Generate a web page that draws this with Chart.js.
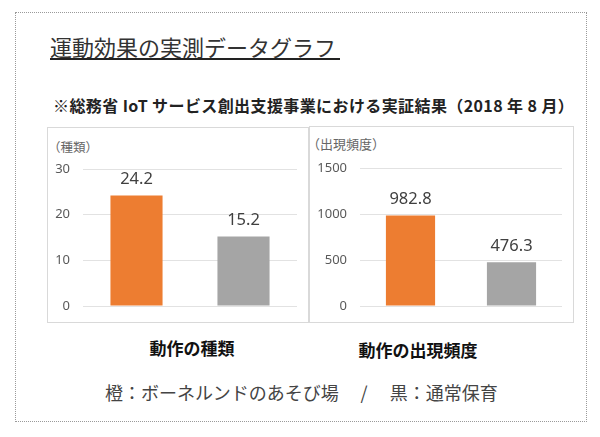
<!DOCTYPE html>
<html lang="ja">
<head>
<meta charset="utf-8">
<script src="https://cdn.jsdelivr.net/npm/chart.js@4.4.1/dist/chart.umd.min.js"></script>
<style>
  html, body { margin: 0; padding: 0; background: #fff; }
  body { width: 600px; height: 437px; position: relative; overflow: hidden; font-family: "Noto Sans CJK JP", sans-serif; }
  .abs { position: absolute; white-space: nowrap; }
  #frame { left: 15px; top: 12px; width: 570px; height: 408px; border: 1px dotted #9a9a9a; }
  #title { left: 50px; top: 34px; font-size: 22px; line-height: 24px; color: #333; }
  #uline { left: 50px; top: 58px; width: 290px; height: 2px; background: #222; }
  #sub { left: 53px; top: 95px; font-size: 16px; line-height: 20px; font-weight: bold; color: #222; letter-spacing: 0.4px; }
  .box { border: 1px solid #d9d9d9; box-sizing: border-box; }
  #boxL { left: 47px; top: 127px; width: 262px; height: 196px; }
  #boxR { left: 309px; top: 126px; width: 265px; height: 197px; }
  .unit { font-size: 12.5px; line-height: 14px; color: #666; }
  #unitL { left: 48px; top: 140px; }
  #unitR { left: 307px; top: 137px; font-size: 13px; }
  .cap { font-size: 17px; line-height: 20px; font-weight: bold; color: #111; transform: translateX(-50%); }
  #capL { left: 192px; top: 338px; }
  #capR { left: 418px; top: 340px; }
  #foot { left: 105px; top: 381px; font-size: 18px; line-height: 22px; color: #444; }
  #foot span.sl { display: inline-block; width: 51px; text-align: center; }
  canvas { position: absolute; }
</style>
</head>
<body>
<div id="frame" class="abs"></div>
<div id="title" class="abs">運動効果の実測データグラフ</div>
<div id="uline" class="abs"></div>
<div id="sub" class="abs">※総務省 IoT サービス創出支援事業における実証結果（2018 年 8 月）</div>
<div id="boxL" class="abs box"></div>
<div id="boxR" class="abs box"></div>
<div id="unitL" class="abs unit">（種類）</div>
<div id="unitR" class="abs unit">（出現頻度）</div>
<canvas id="cL" width="261" height="195" style="left:47px;top:127px;width:261px;height:195px;"></canvas>
<canvas id="cR" width="264" height="196" style="left:309px;top:126px;width:264px;height:196px;"></canvas>
<div id="capL" class="abs cap">動作の種類</div>
<div id="capR" class="abs cap">動作の出現頻度</div>
<div id="foot" class="abs">橙：ボーネルンドのあそび場<span class="sl">/</span>黒：通常保育</div>

<script>
// ---- data ----
const categories = ['ボーネルンドのあそび場', '通常保育'];
const typesValues = [24.2, 15.2];        // 動作の種類
const freqValues = [982.8, 476.3];       // 動作の出現頻度
const typesTicks = [0, 10, 20, 30];
const freqTicks = [0, 500, 1000, 1500];
const barColors = ['#ED7D31', '#A5A5A5'];

const valueLabels = {
  id: 'valueLabels',
  afterDatasetsDraw(chart) {
    const ctx = chart.ctx;
    const meta = chart.getDatasetMeta(0);
    const data = chart.data.datasets[0].data;
    ctx.save();
    ctx.font = '16.5px "Noto Sans", sans-serif';
    ctx.fillStyle = '#404040';
    ctx.textAlign = 'center';
    ctx.textBaseline = 'middle';
    meta.data.forEach((bar, i) => {
      ctx.fillText(String(data[i]), bar.x, bar.y - 16);
    });
    ctx.restore();
  }
};

function makeChart(id, values, ticks, axisWidth, pad) {
  const maxV = ticks[ticks.length - 1];
  const step = ticks[1] - ticks[0];
  return new Chart(document.getElementById(id), {
    type: 'bar',
    data: {
      labels: categories,
      datasets: [{
        data: values,
        backgroundColor: barColors,
        borderWidth: 0,
        categoryPercentage: 1,
        barPercentage: 0.487
      }]
    },
    options: {
      responsive: false,
      animation: false,
      devicePixelRatio: 1,
      layout: { padding: pad },
      plugins: { legend: { display: false }, tooltip: { enabled: false } },
      scales: {
        x: { display: false },
        y: {
          min: 0, max: maxV,
          border: { display: false },
          grid: { color: '#e2e2e2', lineWidth: 1, drawTicks: false },
          ticks: {
            stepSize: step,
            padding: 13,
            color: '#595959',
            font: { family: '"Noto Sans", sans-serif', size: 13 },
            callback: (v) => String(v)
          },
          afterFit(scale) {
            scale.width = axisWidth;
            scale.paddingTop = 8;
            scale.paddingBottom = 8;
          }
        }
      }
    },
    plugins: [valueLabels]
  });
}

makeChart('cL', typesValues, typesTicks, 36, { top: 42, bottom: 16, left: 0, right: 11 });
makeChart('cR', freqValues, freqTicks, 51, { top: 42, bottom: 16, left: 0, right: 11 });
</script>
</body>
</html>
